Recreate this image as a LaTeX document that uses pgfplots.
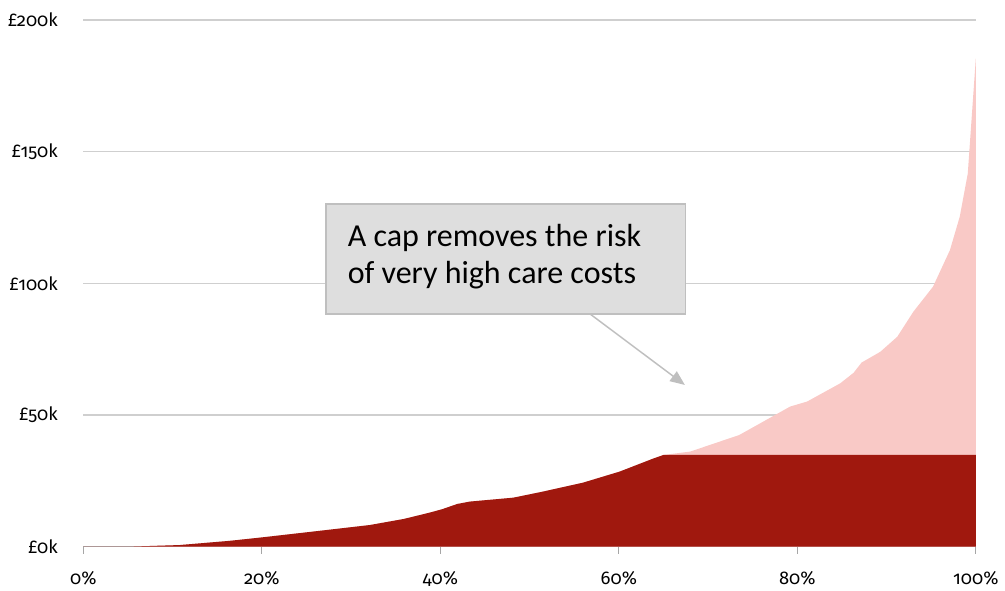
\documentclass[border=0pt]{standalone}
\usepackage{fontspec}
\setmainfont{Carlito}
\newfontfamily\tickfont[Numbers=OldStyle]{Fira Sans}
\usepackage{pgfplots}
\pgfplotsset{compat=1.18}
\usetikzlibrary{arrows.meta}
\definecolor{darkred}{HTML}{A0180E}
\definecolor{pinkc}{HTML}{F9C9C6}
\definecolor{gridc}{HTML}{CFCFCF}
\definecolor{axisc}{HTML}{A6A6A6}
\definecolor{boxfill}{HTML}{DEDEDE}
\definecolor{boxdraw}{HTML}{BFBFBF}
\begin{document}
\begin{tikzpicture}
\begin{axis}[
  at={(0,0)}, anchor=south west,
  scale only axis,
  width=669.4pt, height=395pt,
  xmin=0, xmax=100, ymin=0, ymax=200,
  axis x line*=bottom,
  axis y line*=left,
  x axis line style={draw=axisc, line width=0.8pt},
  y axis line style={draw=none},
  xtick={0,20,40,60,80,100},
  xticklabels={0\%,20\%,40\%,60\%,80\%,100\%},
  ytick={0,50,100,150,200},
  yticklabels={£0k,£50k,£100k,£150k,£200k},
  ymajorgrids,
  grid style={draw=gridc, line width=0.8pt},
  tick align=outside,
  major tick length=5.25pt,
  xtick style={draw=axisc, line width=0.8pt},
  ytick style={draw=none},
  ticklabel style={font=\tickfont\fontsize{13.8}{16}\selectfont, text=black},
  xticklabel style={anchor=base, inner sep=0pt, yshift=-23pt},
  yticklabel style={anchor=east, inner sep=0pt, xshift=-13.7pt},
  clip=false,
]
\addplot[fill=pinkc, draw=none] coordinates {
(0,0) (5.2,0) (10.8,0.6) (16.4,2.2) (20,3.5) (25.7,5.7) (32.1,8.2) (35.9,10.5)
(38.8,12.9) (40.2,14.2) (41.9,16.2) (43.3,17.1) (48.2,18.6) (51.5,20.9) (56,24.3)
(60.1,28.5) (63.9,33.5) (65,34.8) (68,36.1) (73.5,42.4) (77.3,49.6) (79.2,53.2)
(81.1,55.1) (84.8,62) (86.3,66) (87.2,69.9) (89.3,74) (91.2,79.7) (93.0,89.2)
(95.2,98.7) (97.1,112.6) (98.2,125.3) (99.1,141.7) (100,185.4)
} \closedcycle;
\addplot[fill=darkred, draw=none] coordinates {
(0,0) (5.2,0) (10.8,0.6) (16.4,2.2) (20,3.5) (25.7,5.7) (32.1,8.2) (35.9,10.5)
(38.8,12.9) (40.2,14.2) (41.9,16.2) (43.3,17.1) (48.2,18.6) (51.5,20.9) (56,24.3)
(60.1,28.5) (63.9,33.5) (65,34.8) (100,34.8)
} \closedcycle;
\draw[draw=boxdraw, fill=boxfill, line width=1.1pt] (axis cs:27.2,88.3) rectangle (axis cs:67.5,130.1);
\node[anchor=base west, inner sep=0pt, font=\fontsize{24}{28}\selectfont] at (axis cs:29.6,113.9) {A cap removes the risk};
\node[anchor=base west, inner sep=0pt, font=\fontsize{24}{28}\selectfont] at (axis cs:29.6,100.0) {of very high care costs};
\draw[draw=boxdraw, line width=1.1pt, -{Triangle[length=11pt,width=9pt]}] (axis cs:56.8,88.3) -- (axis cs:67.4,61.4);
\end{axis}
\pgfresetboundingbox
\path[use as bounding box] (-62.5pt,-33pt) rectangle (691.3pt,410pt);
\end{tikzpicture}
\end{document}
